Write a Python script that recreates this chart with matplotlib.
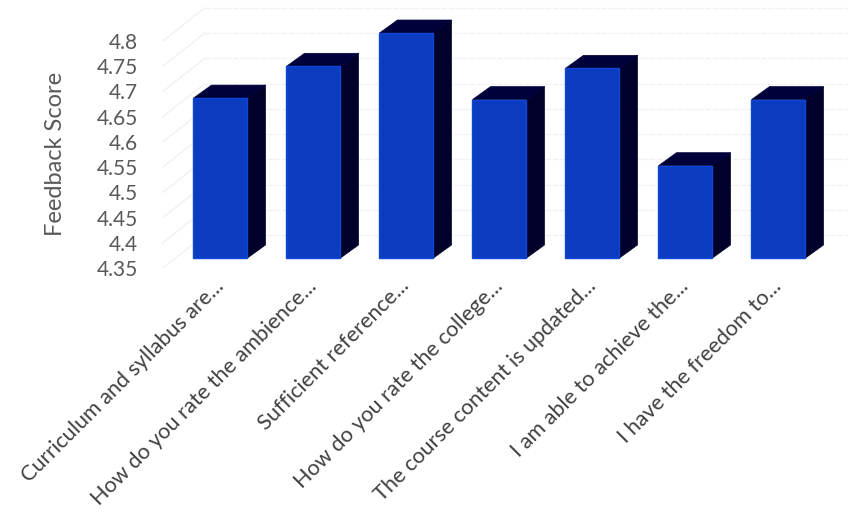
import matplotlib
matplotlib.use('Agg')
import matplotlib.pyplot as plt
from matplotlib.patches import Polygon
from matplotlib.transforms import offset_copy

categories = ['Curriculum and syllabus are...', 'How do you rate the ambience...',
              'Sufficient reference...', 'How do you rate the college...',
              'The course content is updated...', 'I am able to achieve the...',
              'I have the freedom to...']
scores = [4.667, 4.730, 4.796, 4.664, 4.726, 4.533, 4.664]
ticks = [4.35, 4.4, 4.45, 4.5, 4.55, 4.6, 4.65, 4.7, 4.75, 4.8]
tick_labels = ['4.35', '4.4', '4.45', '4.5', '4.55', '4.6', '4.65', '4.7', '4.75', '4.8']

W, H = 854, 513
plt.rcParams['font.family'] = ['Lato', 'DejaVu Sans']

fig = plt.figure(figsize=(W / 100, H / 100), dpi=100)
# axes box is the front plane of the fake 3d chart (bar bases sit on its bottom edge)
ax = fig.add_axes([174 / W, (H - 258) / H, 651 / W, 227 / H])
ax.set_xlim(-0.5, 6.5)
ax.set_ylim(4.35, 4.8)
for s in ax.spines.values():
    s.set_visible(False)
ax.patch.set_visible(False)

depth_x = 18 / 93
depth_y = 13 / 504.4
bar_w = 54 / 93
base = 4.35
grid_col = '#f1f1f1'

# back wall and side wall gridlines
back = offset_copy(ax.transData, fig=fig, x=0, y=23, units='dots')
front_y = offset_copy(ax.transData, fig=fig, x=0, y=-10, units='dots')
for t in ticks:
    ax.plot([-0.17, 6.75], [t, t], transform=back, color=grid_col, lw=1, ls=(0, (4, 1)), clip_on=False, zorder=1)
    x0, y0 = front_y.transform((-0.62, t))
    x1, y1 = back.transform((-0.17, t))
    ax.plot([x0, x1], [y0, y1], transform=None, color=grid_col, lw=1, clip_on=False, zorder=1)

for i, v in enumerate(scores):
    l = i - bar_w / 2
    r = i + bar_w / 2
    ax.add_patch(Polygon([(r, base), (r + depth_x, base + depth_y), (r + depth_x, v + depth_y), (r, v)],
                         closed=True, fc='#00002a', ec='#00002a', lw=0.5, clip_on=False, zorder=3))
    ax.add_patch(Polygon([(l, v), (l + depth_x, v + depth_y), (r + depth_x, v + depth_y), (r, v)],
                         closed=True, fc='#00003a', ec='#00003a', lw=0.5, clip_on=False, zorder=3))
ax.bar(range(len(scores)), [v - base for v in scores], bottom=base, width=bar_w,
       color='#0b3cc0', edgecolor='#0d47d8', linewidth=1, clip_on=False, zorder=4)

# y tick labels sit on the front corner of the side wall, below the bar plane
ax.set_yticks([])
ax.set_xticks([])
label_tr = offset_copy(ax.transData, fig=fig, x=0, y=-10, units='dots')
for t, lab in zip(ticks, tick_labels):
    ax.text(-0.89, t, lab, transform=label_tr, ha='right', va='center_baseline', fontsize=15, color='#595959', clip_on=False)

x_tr = offset_copy(ax.transData, fig=fig, x=0, y=-25, units='dots')
for i, lab in enumerate(categories):
    ax.text(i, base, lab, transform=x_tr, rotation=45, rotation_mode='anchor', ha='right', va='center',
            fontsize=15.6, color='#404040', clip_on=False)

fig.text(56 / W, (H - 154) / H, 'Feedback Score', rotation=90, ha='center', va='center', fontsize=17, color='#595959')

fig.savefig('out.png', dpi=100)
